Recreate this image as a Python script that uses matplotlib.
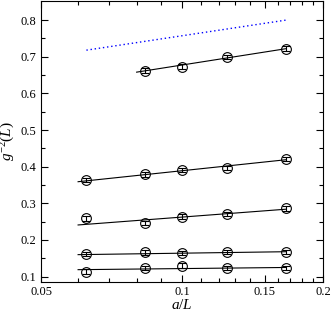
import numpy as np
import matplotlib
matplotlib.use("Agg")
import matplotlib.pyplot as plt
from matplotlib.ticker import FixedLocator, FixedFormatter, NullFormatter

plt.rcParams['font.family'] = ['Liberation Serif', 'DejaVu Serif']
plt.rcParams['mathtext.fontset'] = 'custom'
plt.rcParams['mathtext.it'] = 'Liberation Serif:italic'
plt.rcParams['mathtext.rm'] = 'Liberation Serif'

# lattice spacings a/L
aL = [1/16, 1/12, 1/10, 1/8, 1/6]

# g^-2(L) for the different couplings
g_top = [0.662, 0.673, 0.700, 0.722]   # only L = 12..6
g_2 = [0.364, 0.379, 0.391, 0.396, 0.421]
g_3 = [0.259, 0.247, 0.264, 0.271, 0.286]
g_4 = [0.161, 0.166, 0.164, 0.167, 0.167]
g_5 = [0.114, 0.123, 0.130, 0.123, 0.124]
err = 0.006

# linear fits (endpoints)
fit_top = ([0.08, 1/6], [0.658, 0.722])
fit_2 = ([0.06, 1/6], [0.359, 0.419])
fit_3 = ([0.06, 1/6], [0.241, 0.284])
fit_4 = ([0.06, 1/6], [0.160, 0.168])
fit_5 = ([0.06, 1/6], [0.119, 0.125])

# dotted reference line
ref_x = [1/16, 1/6]
ref_y = [0.718, 0.800]

fig = plt.figure(figsize=(3.32, 3.11), dpi=100)
ax = fig.add_axes([0.1235, 0.094, 0.8495, 0.9026])

ax.plot(ref_x, ref_y, color='blue', linestyle=(0, (1, 2)), lw=1.0)

for xs, ys in [fit_top, fit_2, fit_3, fit_4, fit_5]:
    ax.plot(xs, ys, color='black', lw=0.8)

for xs, ys in [(aL[1:], g_top), (aL, g_2), (aL, g_3), (aL, g_4), (aL, g_5)]:
    ax.errorbar(xs, ys, yerr=err, fmt='o', mfc='none', mec='black', ms=7,
                mew=0.8, ecolor='black', elinewidth=0.8, capsize=3, capthick=0.8)

ax.set_xscale('log')
ax.set_xlim(0.05, 0.2)
ax.set_ylim(0.086, 0.852)

ax.xaxis.set_major_locator(FixedLocator([0.05, 0.1, 0.15, 0.2]))
ax.xaxis.set_major_formatter(FixedFormatter(['0.05', '0.1', '0.15', '0.2']))
minor_x = [0.06, 0.07, 0.08, 0.09, 0.11, 0.12, 0.13, 0.14, 0.16, 0.17, 0.18, 0.19]
ax.xaxis.set_minor_locator(FixedLocator(minor_x))
ax.xaxis.set_minor_formatter(NullFormatter())

ax.set_yticks([0.1, 0.2, 0.3, 0.4, 0.5, 0.6, 0.7, 0.8])
ax.set_yticklabels(['0.1', '0.2', '0.3', '0.4', '0.5', '0.6', '0.7', '0.8'])
ax.set_yticks(np.arange(0.15, 0.85, 0.1), minor=True)

ax.tick_params(which='both', direction='in', top=True, right=True, labelsize=9)
ax.tick_params(which='major', length=5, width=0.8)
ax.tick_params(which='minor', length=3, width=0.8)
ax.tick_params(axis='x', pad=3)

ax.set_xlabel('$a/L$', fontsize=11, labelpad=0)
ax.set_ylabel('$g^{-2}(L)$', fontsize=11, labelpad=2)

fig.savefig('out.png', dpi=100)
